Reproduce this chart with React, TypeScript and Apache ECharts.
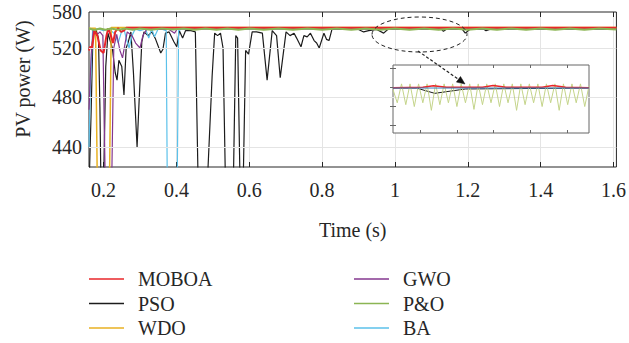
import { useEffect, useRef } from "react";
import * as echarts from "echarts";

const seriesNames = ["MOBOA", "PSO", "WDO", "GWO", "P&O", "BA"];
const seriesColors = ["#e8262a", "#1c1c1c", "#e8b122", "#84378f", "#8bb553", "#5bc1ea"];

const xTickValues = [0.2, 0.4, 0.6, 0.8, 1.0, 1.2, 1.4, 1.6];
const yGridValues = [440, 480, 520];
const yLabelValues = [440, 480, 520, 549.1];
const yLabelTexts = ["440", "480", "520", "580"];
const yAxisTitle = "PV power (W)";
const xAxisTitle = "Time (s)";

const moboa = [
  [0.16, 518], [0.163, 521], [0.168, 520], [0.175, 534], [0.183, 530], [0.192, 518],
  [0.2, 516], [0.208, 530], [0.213, 536], [0.22, 530], [0.226, 524], [0.232, 533],
  [0.24, 536], [0.248, 533], [0.256, 534], [0.262, 536.3], [0.5, 536.3], [1.0, 536.3], [1.608, 536.3],
];

const pso = [
  [0.16, 405], [0.166, 470], [0.171, 533], [0.18, 534], [0.186, 528], [0.19, 472], [0.193, 405],
  [0.2, 405], [0.206, 505], [0.212, 532], [0.224, 520], [0.232, 500], [0.237, 494], [0.242, 510],
  [0.25, 505], [0.256, 482], [0.262, 520], [0.267, 524], [0.275, 533], [0.282, 500], [0.287, 470],
  [0.292, 440], [0.298, 480], [0.305, 525], [0.311, 533], [0.322, 530], [0.333, 533], [0.343, 527],
  [0.357, 516], [0.363, 519], [0.37, 532], [0.38, 533], [0.393, 525], [0.401, 521], [0.408, 534],
  [0.417, 528], [0.425, 534], [0.44, 534], [0.452, 533], [0.46, 405], [0.484, 405], [0.498, 497],
  [0.505, 532], [0.513, 530], [0.521, 532], [0.528, 520], [0.535, 405], [0.556, 405], [0.563, 530],
  [0.568, 528], [0.575, 405], [0.583, 405], [0.59, 518], [0.598, 515], [0.608, 533], [0.62, 533],
  [0.636, 532], [0.649, 494], [0.663, 534], [0.675, 530], [0.685, 496], [0.701, 533], [0.712, 530],
  [0.723, 532], [0.73, 528], [0.742, 521], [0.75, 530], [0.759, 529], [0.768, 532], [0.778, 526],
  [0.785, 524], [0.792, 520], [0.805, 532], [0.812, 527], [0.819, 526], [0.827, 535], [0.9, 535],
  [0.914, 533], [0.928, 534], [0.95, 535], [0.969, 532], [0.98, 535], [1.128, 535], [1.133, 533.5],
  [1.14, 535], [1.185, 535], [1.193, 532], [1.205, 535], [1.245, 535], [1.25, 534], [1.26, 535],
  [1.608, 535],
];

const wdo = [
  [0.16, 536], [0.178, 536], [0.183, 405], [0.216, 405], [0.221, 536.5], [0.6, 536.5], [1.608, 536.5],
];

const gwo = [
  [0.16, 470], [0.166, 515], [0.172, 535], [0.18, 530], [0.19, 533], [0.198, 530], [0.205, 405],
  [0.222, 405], [0.228, 520], [0.236, 531], [0.245, 518], [0.252, 512], [0.258, 522], [0.265, 533],
  [0.278, 530], [0.288, 524], [0.3, 520], [0.308, 530], [0.318, 535], [0.38, 535], [0.395, 532],
  [0.402, 535.4], [1.608, 535.4],
];

const pando = [
  [0.16, 535.8], [0.175, 534.6], [0.19, 535.7], [0.205, 534.8], [0.22, 535.8], [0.24, 534.7],
  [0.26, 535.7], [0.28, 534.8], [0.3, 535.8], [0.33, 534.7], [0.36, 535.7], [0.39, 534.9],
  [0.42, 535.8], [0.45, 534.7], [0.48, 535.7], [0.51, 534.8], [0.54, 535.8], [0.57, 534.7],
  [0.6, 535.7], [0.64, 534.8], [0.68, 535.8], [0.72, 534.7], [0.76, 535.7], [0.8, 534.8],
  [0.84, 535.8], [0.88, 534.7], [0.92, 535.7], [0.96, 534.8], [1.0, 535.8], [1.04, 534.7],
  [1.08, 535.7], [1.12, 534.8], [1.16, 535.8], [1.2, 534.7], [1.24, 535.7], [1.28, 534.8],
  [1.32, 535.8], [1.36, 534.7], [1.4, 535.7], [1.44, 534.8], [1.48, 535.8], [1.52, 534.7],
  [1.56, 535.7], [1.608, 535.0],
];

const ba = [
  [0.16, 440], [0.164, 490], [0.17, 535.5], [0.185, 535.5], [0.2, 534], [0.215, 535.5], [0.232, 531],
  [0.24, 524], [0.248, 532], [0.256, 535.5], [0.262, 528], [0.27, 520], [0.278, 530], [0.287, 535.5],
  [0.3, 534], [0.315, 535.5], [0.324, 528], [0.332, 535.5], [0.34, 529], [0.35, 535.5], [0.362, 535],
  [0.372, 534], [0.375, 405], [0.402, 405], [0.406, 534], [0.415, 535.5], [0.44, 535], [0.46, 535.5],
  [1.608, 535.5],
];

// inset (zoomed steady-state window), x in sample index units
const insetPandO = [
  535.3, 534.6, 535.6, 534.5, 535.6, 534.4, 535.6, 534.6, 535.6, 534.2, 535.6, 534.5,
  535.6, 534.6, 535.6, 534.4, 535.6, 534.6, 535.6, 534.25, 535.6, 534.5, 535.6, 534.6,
  535.6, 534.4, 535.6, 534.6, 535.6, 534.2, 535.6, 534.5, 535.6, 534.6, 535.6, 534.4,
  535.6, 534.6, 535.6, 534.2, 535.6, 534.5, 535.6, 534.6, 535.6, 534.4, 535.5,
];
const insetPso = [[0, 535.38], [5.5, 535.38], [9.8, 535.1], [17, 535.33], [46, 535.38]];
const insetMoboa = [
  [0, 535.4], [7, 535.42], [9.5, 535.5], [12.5, 535.42], [21, 535.42], [23.5, 535.52],
  [26.5, 535.42], [35, 535.42], [37.5, 535.52], [40.5, 535.42], [46, 535.4],
];
const insetBa = [[0, 535.38], [46, 535.38]];
const insetXTicks = [6.3, 15, 23.5, 32.2, 40.8];
const insetYTicks = [533.42, 534.42, 535.42, 536.42];

const FONT = "Liberation Serif";
const TXT = "#262626";

export default function App() {
  const ref = useRef<HTMLDivElement>(null);
  useEffect(() => {
    if (!ref.current) return;
    const chart = echarts.init(ref.current, undefined, { renderer: "svg" });
    const dataSets = [moboa, pso, wdo, gwo, pando, ba];
    const widths = [2, 1.2, 1.5, 1.2, 2, 1.2];
    const drawOrder = [1, 5, 3, 2, 0, 4];
    const mainSeries: any[] = drawOrder.map((i) => ({
      name: seriesNames[i],
      type: "line",
      xAxisIndex: 0,
      yAxisIndex: 0,
      data: dataSets[i],
      color: seriesColors[i],
      showSymbol: false,
      symbol: "none",
      lineStyle: { width: widths[i], color: seriesColors[i] },
      z: 2,
    }));
    const gridSeries = {
      name: "grid",
      type: "line",
      xAxisIndex: 0,
      yAxisIndex: 0,
      data: [[0.16, 535]],
      symbol: "none",
      lineStyle: { opacity: 0 },
      z: 1,
      silent: true,
      markLine: {
        silent: true,
        symbol: ["none", "none"],
        label: { show: false },
        lineStyle: { color: "#e4e4e4", width: 1, type: "solid" },
        data: yGridValues.map((v) => ({ yAxis: v })),
      },
    };
    const insetStyle = (name: string, color: string, width: number, data: any) => ({
      name: name + " (inset)",
      type: "line",
      xAxisIndex: 2,
      yAxisIndex: 2,
      data,
      symbol: "none",
      lineStyle: { width, color },
      z: 5,
      silent: true,
    });
    const insetSeries = [
      insetStyle("PSO", "#1c1c1c", 1, insetPso),
      insetStyle("P&O", "#c4d48a", 1, insetPandO.map((v, i) => [i, v])),
      insetStyle("MOBOA", "#e8262a", 1.5, insetMoboa),
      insetStyle("BA", "#3f7fc0", 1, insetBa),
    ];
    const tickStyle = { show: true, inside: true, length: 5, lineStyle: { color: TXT, width: 1 } };
    const insetTick = { show: true, inside: true, length: 3, lineStyle: { color: "#666", width: 1 } };
    const legendBase = {
      orient: "vertical",
      top: 269,
      height: 74,
      padding: 0,
      itemWidth: 35,
      itemHeight: 1.5,
      itemGap: 4.5,
      icon: "rect",
      selectedMode: false,
      textStyle: { fontFamily: FONT, fontSize: 20, color: TXT, lineHeight: 20, padding: [0, 0, 0, 9] },
    };
    chart.setOption({
      animation: false,
      backgroundColor: "#ffffff",
      grid: [
        { left: 89, top: 12, right: 10, bottom: 176, show: true, borderColor: TXT, borderWidth: 1, z: 0 },
        { left: 393, top: 65, width: 196, height: 68, show: true, borderColor: "#666", borderWidth: 1, backgroundColor: "#ffffff", z: 3 },
      ],
      legend: [
        { ...legendBase, left: 89, data: ["MOBOA", "PSO", "WDO"] },
        { ...legendBase, left: 354, data: ["GWO", "P&O", "BA"] },
      ],
      xAxis: [
        {
          type: "value", gridIndex: 0, min: 0.16, max: 1.608, splitNumber: 7,
          name: xAxisTitle, nameLocation: "middle", nameGap: 53,
          nameTextStyle: { fontFamily: FONT, fontSize: 20, color: TXT },
          axisLine: { show: false },
          axisTick: { ...tickStyle, customValues: xTickValues },
          axisLabel: {
            customValues: xTickValues, margin: 13, fontFamily: FONT, fontSize: 20, color: TXT,
            formatter: (v: number) => String(+v.toFixed(1)),
          },
          splitLine: { show: true, lineStyle: { color: "#e4e4e4", width: 1 } },
        },
        {
          type: "value", gridIndex: 0, position: "top", min: 0.16, max: 1.608,
          axisLine: { show: false }, axisLabel: { show: false }, splitLine: { show: false },
          axisTick: { ...tickStyle, customValues: xTickValues },
        },
        {
          type: "value", gridIndex: 1, min: 0, max: 46,
          axisLine: { show: false }, axisLabel: { show: false }, splitLine: { show: false },
          axisTick: { ...insetTick, customValues: insetXTicks }, z: 4,
        },
        {
          type: "value", gridIndex: 1, position: "top", min: 0, max: 46,
          axisLine: { show: false }, axisLabel: { show: false }, splitLine: { show: false },
          axisTick: { ...insetTick, customValues: insetXTicks }, z: 4,
        },
      ],
      yAxis: [
        {
          type: "value", gridIndex: 0, min: 423.8, max: 549.1,
          axisLine: { show: false },
          axisTick: { ...tickStyle, customValues: yGridValues },
          axisLabel: {
            customValues: yLabelValues, margin: 7, fontFamily: FONT, fontSize: 20, color: TXT,
            formatter: (v: number) => {
              const k = yLabelValues.findIndex((u) => Math.abs(u - v) < 0.01);
              return k >= 0 ? yLabelTexts[k] : "";
            },
          },
          splitLine: { show: false },
        },
        {
          type: "value", gridIndex: 0, position: "right", min: 423.8, max: 549.1,
          axisLine: { show: false }, axisLabel: { show: false }, splitLine: { show: false },
          axisTick: { ...tickStyle, customValues: yGridValues },
        },
        {
          type: "value", gridIndex: 1, min: 533, max: 536.6,
          axisLine: { show: false }, axisLabel: { show: false }, splitLine: { show: false },
          axisTick: { ...insetTick, customValues: insetYTicks }, z: 4,
        },
        {
          type: "value", gridIndex: 1, position: "right", min: 533, max: 536.6,
          axisLine: { show: false }, axisLabel: { show: false }, splitLine: { show: false },
          axisTick: { ...insetTick, customValues: insetYTicks }, z: 4,
        },
      ],
      graphic: [
        {
          type: "text", z: 10, silent: true,
          x: 23, y: 79, rotation: Math.PI / 2,
          style: {
            text: yAxisTitle, fontFamily: FONT, fontSize: 20, fill: TXT,
            align: "center", verticalAlign: "middle",
          },
        },
        {
          type: "ellipse", z: 10, silent: true,
          shape: { cx: 419.5, cy: 34.5, rx: 47.5, ry: 17.5 },
          style: { fill: "none", stroke: "#222", lineWidth: 1, lineDash: [4, 3] },
        },
        {
          type: "line", z: 10, silent: true,
          shape: { x1: 418, y1: 51, x2: 459, y2: 79.7 },
          style: { stroke: "#222", lineWidth: 1.2, lineDash: [3, 2] },
        },
        {
          type: "polygon", z: 10, silent: true,
          shape: { points: [[465, 84], [456.4, 82.1], [460.5, 76.5]] },
          style: { fill: "#111", stroke: "#111", lineWidth: 0.5 },
        },
      ],
      series: [gridSeries, ...mainSeries, ...insetSeries],
    });
    return () => chart.dispose();
  }, []);
  return (
    <div
      ref={ref}
      style={{ position: "fixed", left: 0, top: 0, width: 629, height: 343, background: "#fff" }}
    />
  );
}
